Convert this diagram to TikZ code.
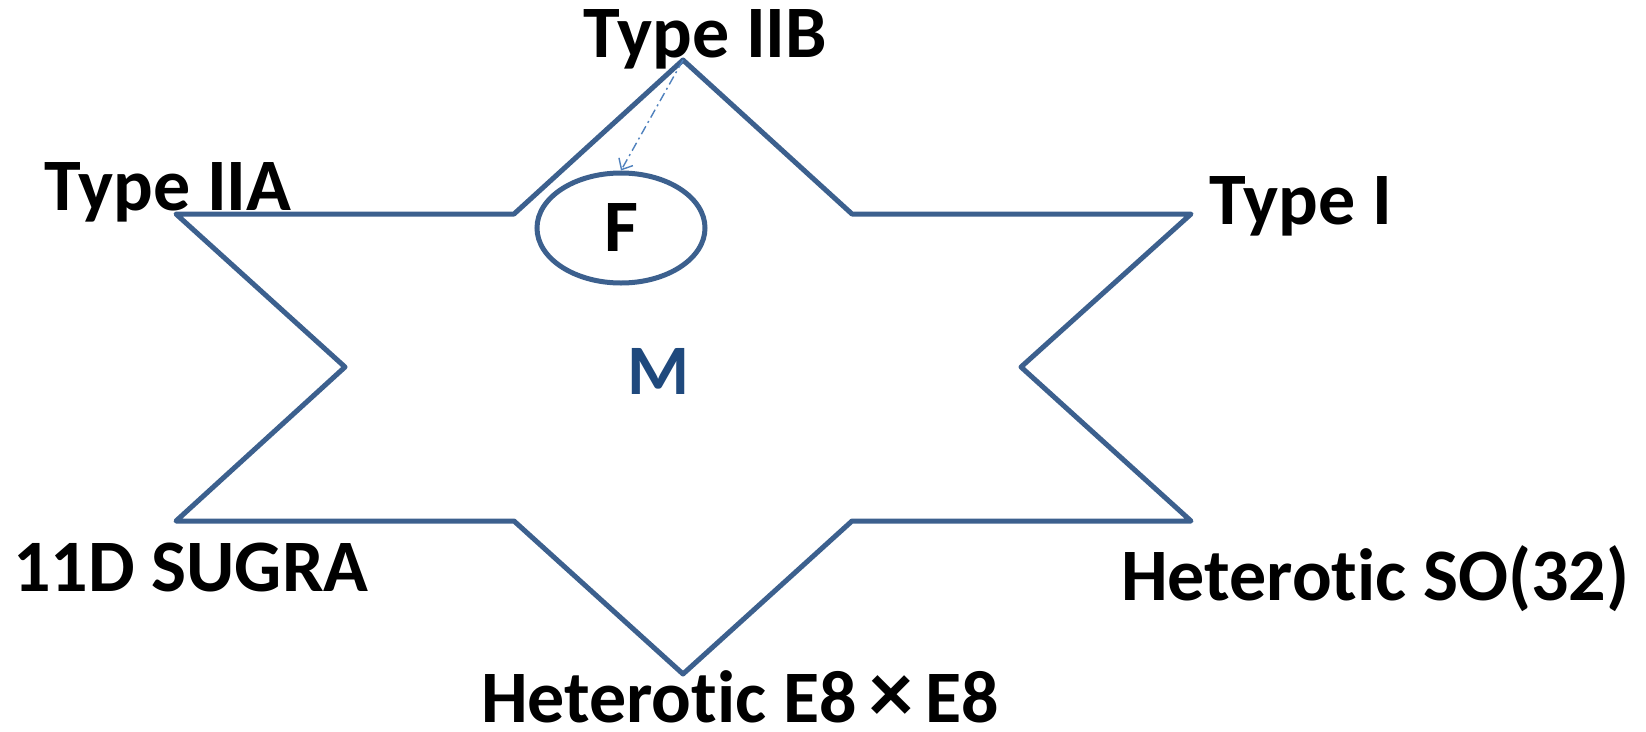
\documentclass[tikz,border=0pt]{standalone}
\usepackage{fontspec}
\setmainfont{Carlito}[Ligatures={NoCommon}]
\usetikzlibrary{arrows.meta,shapes.geometric}
\definecolor{starblue}{RGB}{60,96,142}
\definecolor{arrowblue}{RGB}{79,129,189}
\definecolor{mblue}{RGB}{31,73,125}
\begin{document}
\begin{tikzpicture}[x=1pt,y=-1pt,
  lbl/.style={anchor=base west,inner sep=0pt,font=\fontsize{74}{80}\selectfont\bfseries,text=black},
  starline/.style={draw=starblue,line width=5pt,line join=round},
  arrowline/.style={draw=arrowblue,line width=1.4pt,dash pattern=on 9pt off 4pt on 2pt off 4pt,-{Straight Barb[length=9pt,width=16pt,line width=1.4pt]}}]
\useasboundingbox (0,0) rectangle (1646,731);
\fill[white] (0,0) rectangle (1646,731);
% star vertices
\coordinate (t)  at (683,60);
\coordinate (a1) at (514,214);
\coordinate (a2) at (176,214);
\coordinate (a3) at (345,367);
\coordinate (a4) at (176,521);
\coordinate (a5) at (514,521);
\coordinate (b)  at (683,674);
\coordinate (b1) at (852,521);
\coordinate (b2) at (1191,521);
\coordinate (b3) at (1021,367);
\coordinate (b4) at (1191,214);
\coordinate (b5) at (852,214);
\draw[starline] (t) -- (a1) -- (a2) -- (a3) -- (a4) -- (a5) -- (b) -- (b1) -- (b2) -- (b3) -- (b4) -- (b5) -- cycle;
% ellipse F
\node[ellipse,draw=starblue,line width=5pt,minimum width=168pt,minimum height=110pt,inner sep=0pt,font=\fontsize{74}{80}\selectfont\bfseries] (F) at (621,228) {F};
% arrow
\draw[arrowline] (t) -- (F.north);
% M
\node[anchor=base,inner sep=0pt,font=\fontsize{71}{80}\selectfont\bfseries,text=mblue] (M) at (659,394) {M};
% labels
\node[lbl] (iib) at (583,57) {Type IIB};
\node[lbl] (iia) at (44,210) {Type IIA};
\node[lbl] (i) at (1209,224) {Type I};
\node[lbl] (sugra) at (13,591) {11D SUGRA};
\node[lbl] (so) at (1121,600) {Heterotic SO(32)};
\node[lbl] (e8) at (481,722) {Heterotic E8\,{\fontsize{88}{90}\selectfont ×}\,E8};
\end{tikzpicture}
\end{document}
